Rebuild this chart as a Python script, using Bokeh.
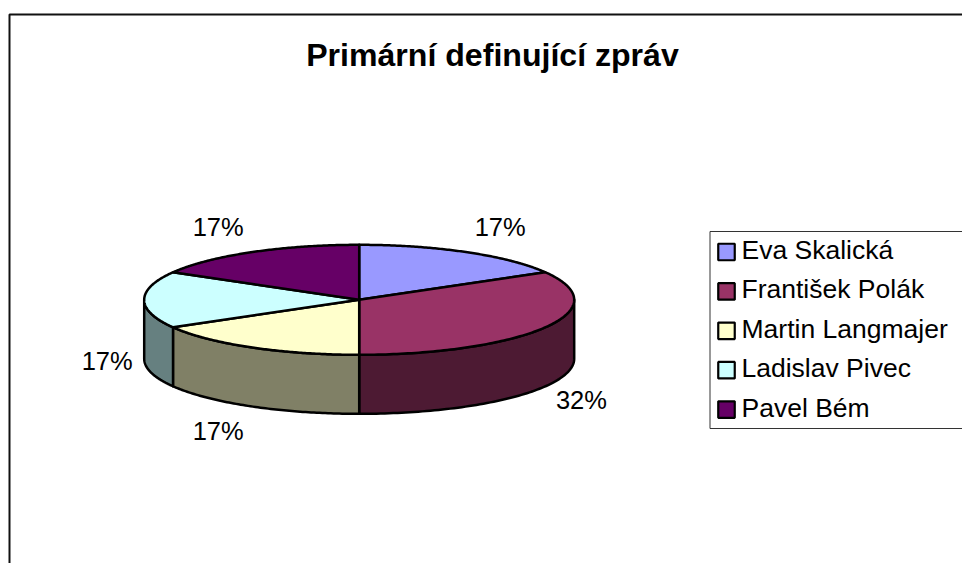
import numpy as np
from bokeh.core.properties import value
from bokeh.embed import file_html
from bokeh.models import Range1d
from bokeh.plotting import figure
from bokeh.resources import INLINE

title = "Primární definující zpráv"
names = ["Eva Skalická", "František Polák", "Martin Langmajer", "Ladislav Pivec", "Pavel Bém"]
shares = [1, 2, 1, 1, 1]
pct_labels = ["17%", "32%", "17%", "17%", "17%"]
top_colors = ["#9999FF", "#993366", "#FFFFCC", "#CCFFFF", "#660066"]
side_colors = ["#4D4D80", "#4D1A33", "#808066", "#668080", "#330033"]

# layout, in window pixels
CX, CY, RX, RY, DEPTH = 358.7, 299.3, 215.0, 55.0, 59.0
LABEL_OFFSETS = [(33.5, -25), (36, 14), (-33.5, 25), (-37, 2.5), (-33.5, -25)]
FONT = value("Liberation Sans")

p = figure(width=962, height=563, output_backend="svg", toolbar_location=None,
           x_range=Range1d(0, 962), y_range=Range1d(563, 0),
           min_border=0, outline_line_color=None, background_fill_color="white",
           border_fill_color="white")
p.axis.visible = False
p.grid.visible = False


def rim(theta, dy=0.0):
    return CX + RX * np.sin(theta), CY - RY * np.cos(theta) + dy


edges = np.concatenate([[0.0], np.cumsum(shares)]) / sum(shares) * 2 * np.pi
starts, ends = edges[:-1], edges[1:]

# outer frame of the chart
p.line(x=[9, 9, 962], y=[563, 14, 14], line_color="#111111", line_width=2)

# side walls: only the part of the rim facing the viewer
sx, sy, sc = [], [], []
for a, b, c in zip(starts, ends, side_colors):
    lo, hi = max(a, np.pi / 2), min(b, 3 * np.pi / 2)
    if hi <= lo:
        continue
    t = np.linspace(lo, hi, 80)
    x1, y1 = rim(t)
    x2, y2 = rim(t[::-1], DEPTH)
    sx.append(np.concatenate([x1, x2]))
    sy.append(np.concatenate([y1, y2]))
    sc.append(c)
p.patches(sx, sy, fill_color=sc, line_color="black", line_width=2.5, line_join="round")

# top face
tx, ty = [], []
for a, b in zip(starts, ends):
    t = np.linspace(a, b, 120)
    x, y = rim(t)
    tx.append(np.concatenate([[CX], x]))
    ty.append(np.concatenate([[CY], y]))
p.patches(tx, ty, fill_color=top_colors, line_color="black", line_width=2.5, line_join="round")

# percentage labels, placed from the middle of each slice
lx, ly = [], []
for a, b, off in zip(starts, ends, LABEL_OFFSETS):
    m = (a + b) / 2
    front = np.cos(m) < 1e-9
    x, y = rim(m, DEPTH if front else 0)
    lx.append(x + off[0])
    ly.append(y + off[1])
p.text(x=lx, y=ly, text=pct_labels, text_font=FONT, text_font_size="25.5px",
       text_align="center", text_baseline="middle", text_color="black")

# title
p.text(x=[492], y=[54], text=[title], text_font=FONT, text_font_size="32.1px",
       text_font_style="bold", text_align="center", text_baseline="middle", text_color="black")

# legend
LEG_L, LEG_T, LEG_B = 709.5, 231, 428
p.line(x=[962, LEG_L, LEG_L, 962], y=[LEG_T, LEG_T, LEG_B, LEG_B], line_color="#333333", line_width=1)
rows = 251.5 + 39.4 * np.arange(len(names))
p.rect(x=[726] * len(names), y=rows, width=16.5, height=16.5, fill_color=top_colors,
       line_color="black", line_width=2.2)
p.text(x=[741] * len(names), y=rows - 2, text=names, text_font=FONT, text_font_size="26.5px",
       text_align="left", text_baseline="middle", text_color="black")

open("out.html", "w").write(file_html(p, INLINE))
